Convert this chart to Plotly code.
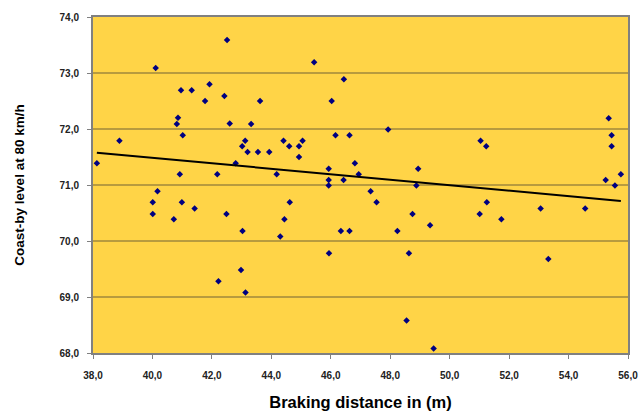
import numpy as np
import plotly.graph_objects as go

braking_distance = [
    42.51, 40.11, 40.96, 41.32, 41.92, 41.77, 42.42, 40.86, 40.82, 41.02,
    38.89, 38.13, 40.92, 42.18, 42.60, 45.44, 46.44, 43.62, 46.03, 43.32,
    46.16, 46.63, 43.12, 44.41, 45.05, 43.02, 44.60, 44.93, 43.20, 43.55,
    43.93, 44.93, 46.81, 46.94, 42.80, 44.18, 45.93, 45.93, 45.93, 46.43,
    47.93, 51.04, 51.23, 48.94, 48.88, 55.35, 55.45, 55.45, 55.76, 55.25,
    55.56, 40.17, 40.01, 40.99, 41.42, 40.01, 40.72, 42.49, 42.22, 44.62,
    44.44, 43.03, 44.30, 46.34, 46.63, 45.94, 42.98, 43.13, 47.34, 47.54,
    51.25, 48.75, 51.01, 49.34, 48.24, 48.63, 48.55, 49.46, 51.74, 53.06,
    54.56, 53.32,
]
coast_by_level = [
    73.59, 73.09, 72.69, 72.69, 72.80, 72.50, 72.59, 72.20, 72.09, 71.89,
    71.79, 71.39, 71.19, 71.19, 72.10, 73.19, 72.89, 72.50, 72.50, 72.09,
    71.89, 71.89, 71.79, 71.79, 71.79, 71.69, 71.69, 71.69, 71.59, 71.59,
    71.59, 71.50, 71.39, 71.19, 71.39, 71.19, 71.29, 71.09, 70.99, 71.09,
    71.99, 71.79, 71.69, 71.29, 70.99, 72.19, 71.89, 71.69, 71.19, 71.09,
    70.99, 70.89, 70.69, 70.69, 70.58, 70.48, 70.39, 70.48, 69.28, 70.69,
    70.39, 70.18, 70.08, 70.18, 70.18, 69.78, 69.48, 69.08, 70.89, 70.69,
    70.69, 70.48, 70.48, 70.28, 70.18, 69.78, 68.58, 68.08, 70.39, 70.58,
    70.58, 69.68,
]

x_tick_values = [38, 40, 42, 44, 46, 48, 50, 52, 54, 56]
x_tick_labels = ["38,0", "40,0", "42,0", "44,0", "46,0", "48,0", "50,0", "52,0", "54,0", "56,0"]
y_tick_values = [68, 69, 70, 71, 72, 73, 74]
y_tick_labels = ["68,0", "69,0", "70,0", "71,0", "72,0", "73,0", "74,0"]

x_arr = np.array(braking_distance)
y_arr = np.array(coast_by_level)
slope, intercept = np.polyfit(x_arr, y_arr, 1)
trend_x = [x_arr.min(), x_arr.max()]
trend_y = [slope * v + intercept for v in trend_x]

font_family = "Liberation Sans, Arial, sans-serif"

fig = go.Figure()
fig.add_trace(go.Scatter(
    x=braking_distance, y=coast_by_level, mode="markers",
    marker=dict(symbol="diamond", size=5, color="#000080"),
    showlegend=False, hoverinfo="x+y",
))
fig.add_trace(go.Scatter(
    x=trend_x, y=trend_y, mode="lines",
    line=dict(color="#000000", width=2),
    showlegend=False, hoverinfo="skip",
))

fig.update_layout(
    width=641, height=411,
    margin=dict(l=93, r=13, t=17, b=58),
    paper_bgcolor="#FFFFFF",
    plot_bgcolor="#FFD447",
    font=dict(family=font_family, color="#000000"),
)
fig.update_xaxes(
    range=[38, 56], tickvals=x_tick_values, ticktext=x_tick_labels,
    tickfont=dict(size=10, family=font_family, weight="bold", color="#222222"),
    showgrid=False, zeroline=False, automargin=False,
    showline=True, linecolor="#808080", linewidth=2, mirror=True,
    ticks="outside", ticklen=4, tickcolor="#808080", ticklabelstandoff=8,
    title=dict(text="<b>Braking distance in (m)</b>", font=dict(size=16.5, family=font_family), standoff=20),
)
fig.update_yaxes(
    range=[68, 74], tickvals=y_tick_values, ticktext=y_tick_labels,
    tickfont=dict(size=10, family=font_family, weight="bold", color="#222222"),
    showgrid=True, gridcolor="#B89B3E", gridwidth=2, zeroline=False, automargin=False,
    showline=True, linecolor="#808080", linewidth=2, mirror=True,
    ticks="outside", ticklen=4, tickcolor="#808080", ticklabelstandoff=6,
    title=dict(text="<b>Coast-by level at 80 km/h</b>", font=dict(size=13.5, family=font_family), standoff=32),
)

fig.write_html("out.html")
